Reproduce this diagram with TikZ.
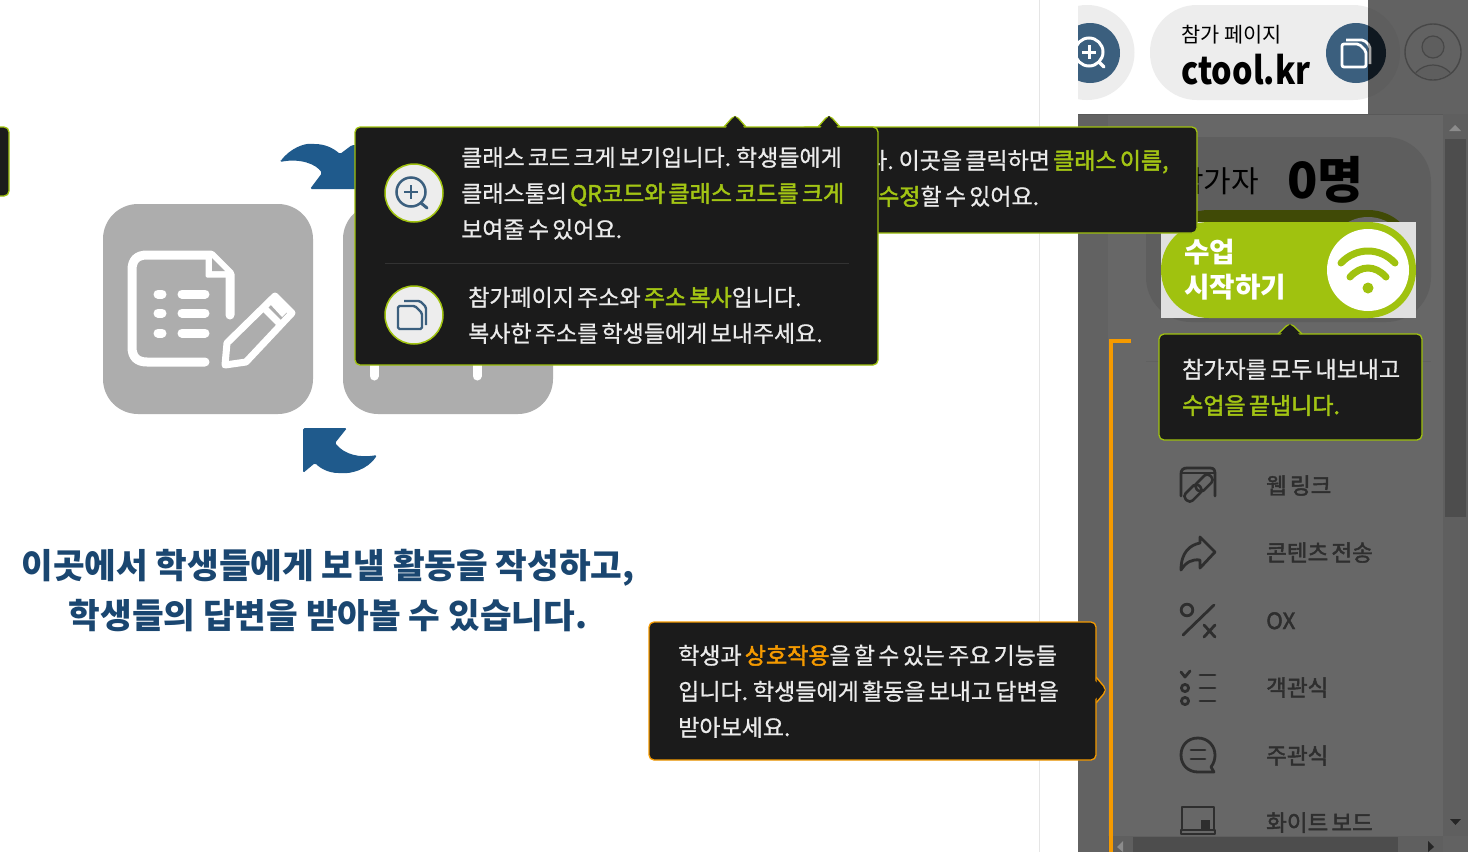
\documentclass[tikz,border=0pt]{standalone}
\usepackage{fontspec}
\setmainfont{Noto Sans CJK KR}
\newfontfamily\tipbold[WordSpace=0.62,FakeBold=2]{Noto Sans CJK KR}
\newfontfamily\tipreg[WordSpace=0.62,FakeBold=0.8]{Noto Sans CJK KR}
\newfontfamily\plainkr{Noto Sans CJK KR}
\newcommand{\fs}[1]{\fontsize{#1}{#1}\selectfont}
\definecolor{tipdark}{HTML}{1B1B1B}
\definecolor{lime}{HTML}{A0C20F}
\definecolor{limet}{HTML}{A3C514}
\definecolor{amber}{HTML}{F59A00}
\definecolor{navy}{HTML}{1F5A8C}
\definecolor{titlec}{HTML}{1A4670}
\definecolor{steel}{HTML}{3B5F7E}
\definecolor{panel}{HTML}{676767}
\definecolor{strip}{HTML}{626262}
\definecolor{card}{HTML}{5E5E5E}
\definecolor{track}{HTML}{5F5F5F}
\definecolor{thumb}{HTML}{4D4D4D}
\definecolor{ink}{HTML}{2E2E2E}
\definecolor{tile}{HTML}{ADADAD}
\definecolor{olive}{HTML}{404A06}
\newcommand{\hl}[1]{\textcolor{limet}{\tipbold #1}}
\tikzset{
  x=1pt,y=-1pt,
  tiptext/.style={anchor=base west,inner sep=0,text=white!92!black,font=\fs{23}\tipreg},
  menutext/.style={anchor=base west,inner sep=0,text=ink,font=\fs{22.5}\tipbold},
  tipbox/.style={fill=tipdark,draw=#1,line width=1.3pt,rounded corners=5pt},
  menuicon/.style={draw=ink,line width=2.8pt,line cap=round,line join=round},
  chainlink/.style={draw=ink,line width=2.6pt,rounded corners=4pt,minimum width=19pt,minimum height=10pt,inner sep=0,rotate=45},
  docline/.style={draw=white,line width=9pt,line cap=round,line join=round},
  coin/.style={circle,fill=black!7,draw=lime,line width=1.5pt,minimum size=58pt,inner sep=0},
}
\begin{document}
\begin{tikzpicture}
\useasboundingbox (0,0) rectangle (1468,852);
\fill[white] (0,0) rectangle (1468,852);
\draw[black!10,line width=1pt] (1039.5,0) -- (1039.5,852);
% left stub tooltip
\draw[tipbox=lime] (-20,127) rectangle (9,196);
% tiles
\fill[tile,rounded corners=35pt] (103,204) rectangle (313,414);
\fill[tile,rounded corners=35pt] (343,204) rectangle (553,414);
\draw[white,line width=9pt,line cap=round] (374,360) -- (374,376);
\draw[white,line width=9pt,line cap=round] (477,360) -- (477,376);
% document icon
\draw[docline] (230,315) -- (230,274) -- (211,255) -- (147,255) .. controls (137,255) and (132,260) .. (132,270) -- (132,347) .. controls (132,357) and (137,362) .. (147,362) -- (205,362);
\fill[white,line join=round,draw=white,line width=3pt] (207,255) -- (207,276) -- (230,276) -- cycle;
\fill[tile] (212,258) -- (212,271) -- (225,271) -- cycle;
\foreach \yy in {294,313,333}{
  \draw[docline] (158,\yy) -- (162,\yy);
  \draw[docline] (182,\yy) -- (205,\yy);
}
\draw[draw=white,line width=7pt,line join=round] (225,365) -- (227,343) -- (275,296) -- (292,313) -- (246,362) -- cycle;
\draw[draw=white,line width=7pt] (262,306) -- (282,326);
\fill[white] (270,304) -- (276,298) -- (288,311) -- (282,317) -- cycle;
% blue arrows
\fill[navy,rounded corners=1.5pt] (280,162) .. controls (290,148) and (305,143) .. (313,144) .. controls (325,144) and (333,148) .. (340,154) -- (352,145) -- (360,145) -- (360,189) -- (310,189) -- (322,173) .. controls (316,164) and (300,158) .. (280,162) -- cycle;
\fill[navy,rounded corners=1.5pt] (303,428) -- (347,428) -- (335,443) .. controls (345,455) and (360,458) .. (377,455) .. controls (368,470) and (350,474) .. (340,473) .. controls (328,473) and (320,468) .. (315,463) -- (303,473) -- cycle;
% title
\node[anchor=base,inner sep=0,text=titlec,font=\fs{34.4}\bfseries] (title1) at (328,578) {이곳에서 학생들에게 보낼 활동을 작성하고,};
\node[anchor=base,inner sep=0,text=titlec,font=\fs{34.4}\bfseries] (title2) at (328,628) {학생들의 답변을 받아볼 수 있습니다.};
% right panel
\fill[strip] (1078,114) rectangle (1468,852);
\fill[panel] (1108,114) rectangle (1443,836);
\fill[strip] (1368,0) rectangle (1468,114);
\draw[black!65,line width=.8pt] (1078,114) -- (1468,114);
% top bar, lit part
\begin{scope}
\clip (1078,0) rectangle (1368,114);
\fill[white] (1078,0) rectangle (1368,114);
\fill[black!7] (1087,52.5) circle[radius=47.5];
\fill[steel] (1090,53) circle[radius=30];
\draw[white,line width=3pt] (1089,52) circle[radius=14];
\draw[white,line width=3pt] (1089,45) -- (1089,59) (1082,52) -- (1096,52);
\draw[white,line width=3.4pt,line cap=round] (1099,62) -- (1104,67);
\fill[black!7,rounded corners=47pt] (1150,5) rectangle (1400,100);
\fill[steel] (1356,53) circle[radius=30];
\draw[white,line width=2.8pt,rounded corners=2pt] (1346,40) -- (1364,40) -- (1370,46) -- (1370,64);
\draw[white,line width=2.8pt,fill=steel,rounded corners=2pt] (1342,44) -- (1359,44) -- (1366,51) -- (1366,67) -- (1342,67) -- cycle;
\end{scope}
% top bar, dimmed part
\begin{scope}
\clip (1368,0) rectangle (1468,114);
\fill[card,rounded corners=47pt] (1300,5) rectangle (1400,100);
\fill[black!75!steel] (1356,53) circle[radius=30];
\draw[black!35,line width=2.8pt,rounded corners=2pt] (1364,40) -- (1370,46) -- (1370,64);
\end{scope}
\draw[black!72,line width=1.4pt] (1433,52) circle[radius=28];
\begin{scope}
\clip (1433,52) circle[radius=27];
\fill[card] (1433,88) ellipse[x radius=23,y radius=23];
\draw[black!72,line width=1.2pt] (1433,88) ellipse[x radius=23,y radius=23];
\end{scope}
\fill[card,draw=black!72,line width=1.2pt] (1433,47) circle[radius=11];
\node[anchor=base west,inner sep=0,text=black,font=\fs{20.8}\plainkr] (pagelabel) at (1181,42) {참가 페이지};
\node[anchor=base west,inner sep=0,text=black,font=\fs{38}\bfseries] (pageurl) at (1181,84) {\scalebox{.85}[1]{ctool.kr}};
% participants card
\fill[card,rounded corners=45pt] (1146,137) rectangle (1431,322);
\draw[black!62,line width=1pt] (1146,361) -- (1431,361);
\node[anchor=base west,inner sep=0,text=black,font=\fs{30}\plainkr] (parttxt) at (1176,192) {참가자};
\node[anchor=base west,inner sep=0,text=black,font=\fs{50}\bfseries] (partnum) at (1287,198) {0명};
\fill[olive,rounded corners=47.9pt] (1161,210) rectangle (1416,306);
\fill[panel] (1368,258) circle[radius=41];
\fill[black!12] (1161,222) rectangle (1416,318);
\fill[lime,rounded corners=47.9pt] (1161,222) rectangle (1416,318);
\fill[white] (1368,270) circle[radius=41];
\draw[lime,line width=7pt,line cap=round] (1341,263) .. controls (1356,247) and (1380,247) .. (1395,263);
\draw[lime,line width=7pt,line cap=round] (1350,277) .. controls (1361,265) and (1375,265) .. (1386,277);
\fill[lime] (1368,288) circle[radius=5.5];
\node[anchor=base west,inner sep=0,text=white,font=\fs{27.7}\bfseries] (start1) at (1184,262) {수업};
\node[anchor=base west,inner sep=0,text=white,font=\fs{27.7}\bfseries] (start2) at (1184,297) {시작하기};
% menu texts
\node[menutext] (m1) at (1266,494) {웹 링크};
\node[menutext] (m2) at (1266,561) {콘텐츠 전송};
\node[menutext] (m3) at (1266,629) {OX};
\node[menutext] (m4) at (1266,696) {객관식};
\node[menutext] (m5) at (1266,764) {주관식};
\node[menutext] (m6) at (1266,831) {화이트 보드};
% web link icon
\draw[menuicon] (1181,496) -- (1181,474) .. controls (1181,470) and (1183,468) .. (1187,468) -- (1210,468) .. controls (1214,468) and (1215,470) .. (1215,474) -- (1215,496);
\draw[menuicon,line width=1.8pt] (1181,473) -- (1215,473);
\node[chainlink] (link1) at (1193,493) {};
\node[chainlink] (link2) at (1204,483) {};
% share icon
\draw[menuicon] (1181,570) .. controls (1181,552) and (1190,545) .. (1200,543) -- (1200,537) -- (1215,552) -- (1200,568) -- (1200,560) .. controls (1192,559) and (1186,562) .. (1181,570) -- cycle;
% OX icon
\draw[menuicon] (1187,610) circle[radius=5.8];
\draw[menuicon] (1214,605) -- (1183,635);
\draw[menuicon] (1204,625) -- (1215,637) (1215,625) -- (1204,637);
% multiple choice icon
\draw[menuicon] (1181,672) -- (1185,677) -- (1190,671);
\draw[menuicon] (1185,688) circle[radius=3.6];
\draw[menuicon] (1185,701) circle[radius=3.6];
\draw[menuicon] (1200,675) -- (1215,675) (1200,688) -- (1215,688) (1200,701) -- (1215,701);
% short answer icon
\draw[menuicon] (1198,738) .. controls (1187,738) and (1181,746) .. (1181,755) .. controls (1181,765) and (1188,772) .. (1198,772) -- (1214,772) -- (1211,767) .. controls (1214,763) and (1215,759) .. (1215,755) .. controls (1215,746) and (1208,738) .. (1198,738) -- cycle;
\draw[menuicon] (1191,750) -- (1205,750) (1191,759) -- (1205,759);
% whiteboard icon
\draw[menuicon] (1182,830) -- (1182,807) -- (1214,807) -- (1214,830);
\draw[menuicon] (1181,830) -- (1215,830) -- (1215,834) -- (1181,834) -- cycle;
\fill[ink] (1201,820) rectangle (1210,830);
% scrollbars
\fill[track] (1443,114) rectangle (1468,836);
\fill[thumb] (1445,139) rectangle (1466,517);
\fill[black!45] (1449,131) -- (1455,125) -- (1461,131) -- cycle;
\fill[black!85] (1450,819) -- (1461,819) -- (1455.5,825) -- cycle;
\fill[track] (1108,836) rectangle (1443,852);
\fill[thumb] (1133,837) rectangle (1398,852);
\fill[black!45] (1123,841) -- (1117,847) -- (1123,852) -- cycle;
\fill[black!85] (1428,841) -- (1434,847) -- (1428,852) -- cycle;
% orange bracket
\draw[amber,line width=3.6pt] (1131,341) -- (1111,341) -- (1111,852);
% back tooltip
\draw[tipbox=lime,fill=tipdark] (724,127) -- (735,114.5) -- (746,127);
\draw[tipbox=lime,fill=tipdark] (818,127) -- (829,114.5) -- (840,127);
\draw[tipbox=lime] (800,127) rectangle (1197,233);
\fill[tipdark] (820,128.5) -- (829,116) -- (838,128.5) -- cycle;
\node[tiptext] (b1) at (866,169) {다. 이곳을 클릭하면 \hl{클래스 이름,}};
\node[tiptext] (b2) at (878,205) {\hl{수정}할 수 있어요.};
% front tooltip
\draw[tipbox=lime] (355,127) rectangle (878,365);
\fill[tipdark] (725.5,128.5) -- (735,116) -- (744.5,128.5) -- cycle;
\fill[tipdark] (820,128.5) -- (829,116) -- (838,128.5) -- cycle;
\draw[black!80,line width=.8pt] (385,263.5) -- (849,263.5);
\node[coin] (c1) at (414,193) {};
\node[coin] (c2) at (414,315) {};
\draw[steel,line width=2.5pt] (411,192) circle[radius=14.5];
\draw[steel,line width=2.5pt] (411,185) -- (411,199) (404,192) -- (418,192);
\draw[steel,line width=3pt,line cap=round] (421,203) -- (427,208);
\draw[steel,line width=2.4pt,rounded corners=1.5pt] (404,301) -- (420,301) -- (426,307) -- (426,325);
\draw[steel,line width=2.4pt,rounded corners=1.5pt,fill=black!7] (398,306) -- (415,306) -- (422,313) -- (422,329) -- (398,329) -- cycle;
\node[tiptext] (f1) at (461,166) {클래스 코드 크게 보기입니다. 학생들에게};
\node[tiptext] (f2) at (461,202) {클래스툴의 \hl{QR코드와 클래스 코드를 크게}};
\node[tiptext] (f3) at (461,238) {보여줄 수 있어요.};
\node[tiptext] (f4) at (468,306) {참가페이지 주소와 \hl{주소 복사}입니다.};
\node[tiptext] (f5) at (468,342) {복사한 주소를 학생들에게 보내주세요.};
% start tooltip
\draw[tipbox=lime,fill=tipdark] (1278,334) -- (1290,322.5) -- (1302,334);
\draw[tipbox=lime] (1159,334) rectangle (1422,440);
\fill[tipdark] (1280,335.5) -- (1290,324) -- (1300,335.5) -- cycle;
\node[tiptext] (s1) at (1182,378) {참가자를 모두 내보내고};
\node[tiptext] (s2) at (1182,414) {\hl{수업을 끝냅니다.}};
% bottom tooltip
\draw[tipbox=amber,fill=tipdark] (1096,677) -- (1107,690) -- (1096,703);
\draw[tipbox=amber] (649,622) rectangle (1096,760);
\fill[tipdark] (1094,680) -- (1105,690) -- (1094,700) -- cycle;
\node[tiptext] (o1) at (678,664) {학생과 \textcolor{amber}{\tipbold 상호작용}을 할 수 있는 주요 기능들};
\node[tiptext] (o2) at (678,700) {입니다. 학생들에게 활동을 보내고 답변을};
\node[tiptext] (o3) at (678,736) {받아보세요.};
\end{tikzpicture}
\end{document}
